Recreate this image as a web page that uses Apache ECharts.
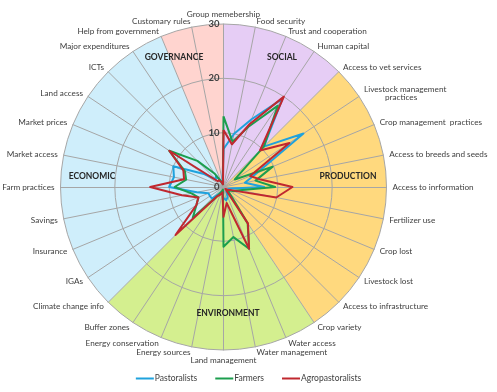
<!DOCTYPE html>
<html>
<head>
<meta charset="utf-8">
<script src="https://cdn.jsdelivr.net/npm/echarts@6/dist/echarts.min.js"></script>
<style>html,body{margin:0;padding:0;background:#fff}#c{width:497px;height:392px}</style>
</head>
<body>
<div id="c"></div>
<script>
const categories = [
  'Group memebership','Food security','Trust and cooperation','Human capital',
  'Access to vet services','Livestock management\n          practices','Crop management  practices',
  'Access to breeds and seeds','Access to inrformation','Fertilizer use','Crop lost',
  'Livestock lost','Access to infrastructure','Crop variety','Water access',
  'Water management','Land management','Energy sources','Energy conservation',
  'Buffer zones','Climate change info','IGAs','Insurance','Savings','Farm practices',
  'Market access','Market prices','Land access','ICTs','Major expenditures',
  'Help from government','Customary rules'
];
const pastoralists = [7, 10, 13.5, 19.5, 10.5, 17.7, 6.6, 4, 7.5, 1.5, 1, 1, 1, 1, 2, 2.5, 2, 1, 1, 1.5, 3, 3, 3, 5, 10, 9.3, 10, 4.3, 2, 2.5, 1, 1];
const farmers = [13, 8.5, 12, 18, 10.5, 2.5, 9.8, 6, 9.5, 3, 2, 1, 1.5, 8, 12.3, 9.4, 11, 0.5, 1, 2, 8, 6, 5, 6, 9, 7, 7.7, 12, 6.8, 3, 1, 0.5];
const agropastoralists = [10.5, 8, 12.5, 20, 9.5, 14.6, 5.3, 7, 12.7, 9.9, 1.5, 1, 0.5, 8.1, 12.3, 3, 5.5, 1, 1.5, 2, 12.5, 6, 5, 7.8, 13.5, 7.4, 8, 12, 1.5, 1.5, 1, 0.5];
const seriesNames = ['Pastoralists', 'Farmers', 'Agropastoralists'];
const sectorNames = ['SOCIAL', 'PRODUCTION', 'ENVIRONMENT', 'ECONOMIC', 'GOVERNANCE'];
const sectorSpans = [4, 9, 7, 10, 2]; // number of indicator steps each sector covers
const axisMax = 30;
const axisSplits = 3;

const CX = 223.5, CY = 187, R = 163;
const FONT = 'Lato';
const sectorColors = ['#E6CDF5', '#FFD97E', '#D4EF8F', '#CFEEFB', '#FFD4CF'];
const lineColors = ['#1FA2DD', '#1C9E4E', '#C0282F'];

// ECharts radar runs counter-clockwise; reorder so indicators go clockwise like the original
const order = [0].concat(categories.map((_, i) => i).slice(1).reverse());
const reorder = arr => order.map(i => arr[i]);

const indicators = reorder(categories).map((name, k) => {
  const ind = {name: name, max: axisMax, min: 0};
  if (k === 0) {
    ind.axisLabel = {show: true, color: '#404040', fontSize: 9.5, fontWeight: 'bold', fontFamily: FONT, margin: 4};
  }
  return ind;
});

const chart = echarts.init(document.getElementById('c'), null, {renderer: 'canvas'});
const seriesData = [pastoralists, farmers, agropastoralists];

chart.setOption({
  animation: false,
  textStyle: {fontFamily: FONT},
  radar: {
    z: 1,
    center: [CX, CY],
    radius: R,
    startAngle: 90,
    shape: 'circle',
    splitNumber: axisSplits,
    indicator: indicators,
    nameGap: 6,
    axisName: {color: '#404040', fontSize: 8.2, fontFamily: FONT},
    axisLine: {show: true, lineStyle: {color: '#A6A6A6', width: 1}},
    axisTick: {show: false},
    axisLabel: {show: false},
    splitLine: {show: true, lineStyle: {color: '#A6A6A6', width: 1}},
    splitArea: {show: false}
  },
  legend: {
    data: seriesNames,
    bottom: 4,
    left: 'center',
    icon: 'rect',
    itemWidth: 18,
    itemHeight: 2,
    itemGap: 18,
    textStyle: {color: '#404040', fontSize: 8.5, fontFamily: FONT, padding: [0, 0, 0, -4]}
  },
  graphic: sectorNames.map((n, i) => {
    const pos = [[282, 57], [348, 176], [228, 313], [92, 176], [174, 57]][i];
    return {type: 'text', z: 5, x: pos[0], y: pos[1],
      style: {text: n, font: 'bold 8.5px ' + FONT, fill: '#262626', align: 'center', verticalAlign: 'middle'}};
  }),
  series: [
    {
      type: 'pie',
      z: 0,
      center: [CX, CY],
      radius: [0, R],
      startAngle: 90,
      clockwise: true,
      silent: true,
      label: {show: false},
      labelLine: {show: false},
      itemStyle: {borderWidth: 0},
      emphasis: {disabled: true},
      data: sectorNames.map((n, i) => ({name: n, value: sectorSpans[i], itemStyle: {color: sectorColors[i]}}))
    },
    {
      type: 'radar',
      z: 3,
      symbol: 'none',
      data: seriesData.map((vals, i) => ({
        name: seriesNames[i],
        value: reorder(vals),
        lineStyle: {color: lineColors[i], width: 2},
        itemStyle: {color: lineColors[i]},
        areaStyle: null
      }))
    }
  ]
});
</script>
</body>
</html>
